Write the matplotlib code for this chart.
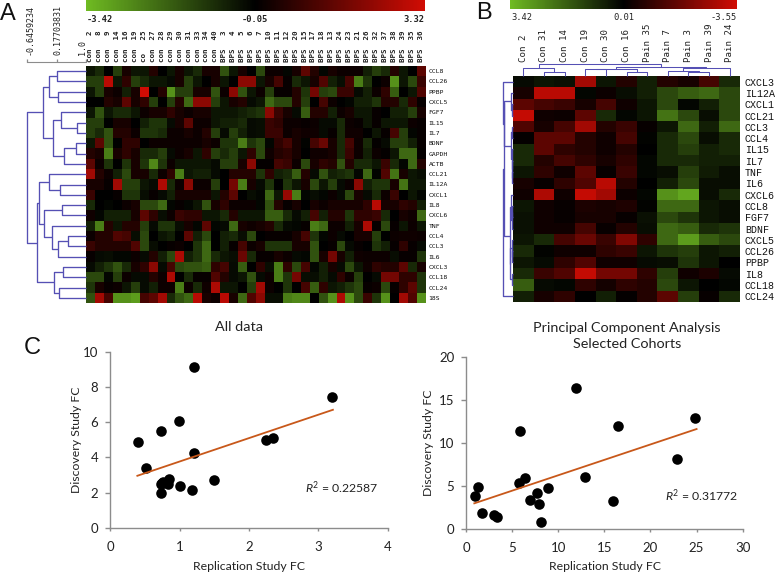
import matplotlib
matplotlib.use("Agg")
import matplotlib.pyplot as plt
from matplotlib.cm import ScalarMappable
from matplotlib.colors import LinearSegmentedColormap, Normalize
from matplotlib.transforms import ScaledTranslation

W, H = 776, 573

# heat levels: negative = green, positive = red, +-9 = end of the colour bar
a_genes = ["CCL8", "CCL26", "PPBP", "CXCL5", "FGF7", "IL15", "IL7", "BDNF", "GAPDH", "ACTB", "CCL21", "IL12A",
           "CXCL1", "IL8", "CXCL6", "TNF", "CCL4", "CCL3", "IL6", "CXCL3", "CCL18", "CCL24", "18S"]
a_samples = ["con 2", "con 8", "con 9", "con 14", "con 16", "con 19", "co 25", "con 27", "con 28", "con 29",
             "con 30", "con 31", "con 33", "con 34", "con 40", "BPS 3", "BPS 4", "BPS 5", "BPS 6", "BPS 7",
             "BPS 10", "BPS 11", "BPS 12", "BPS 20", "BPS 15", "BPS 17", "BPS 18", "BPS 13", "BPS 24", "BPS 23",
             "BPS 21", "BPS 26", "BPS 32", "BPS 37", "BPS 38", "BPS 39", "BPS 35", "BPS 36"]
a_heat = [
    [-1, -2, 0, -3, 1, -1, -1, 1.5, 0, -1, 1, -1, -2, 1, 1, -4, -1, 1, 0, -3.5, .5, .5, -.3, 1, 4, 1.5, -.3, 1, .5, .5, .5, -1.5, -3, -2, 1.5, -1, 0, 4, ],
    [-3, -3, 8, -1, 2, -3, -2, -1, -1, -.5, 1, -3, -1, 0, 1, -1, 0, 6, 6, -1, 1, 3, .3, -2, -1, 1, 3.5, -1.5, -.7, 3, -6, -2.5, 0, .5, -7, -1, -3.5, 2.5],
    [-1, -3, 1, .5, -1.5, 1, 9, 0, 1.5, -7, -3, -3, 1, 1, -4, .5, 6, -4, -1, .5, -3, .3, .3, 1.5, -2.5, 5, -3, -3.5, 2.5, 2.5, -.5, -1.5, .5, 2, -4.5, 0, -1, 3.5],
    [0, 0, 1.5, 1, 4, 1, 2, -3, 0, -3, 1.5, -5, 6, 6, -3, -1, 1, 1.5, -.5, -1, -5, -3.5, -3.5, 1.5, -3, 0, 3, .5, 0, -.3, -1.5, -1.5, -2.5, 1.5, 1.5, -2, 2, .3],
    [-1, -4, -1, -2, -2, -1, .5, 1, 1, 2, 1, .5, 1, 1, -1, -1, -1, -1.5, -2, -2.5, 6, 2.5, 1, -.5, -4.5, 1.5, 1.5, -1.5, .5, 1, -1, -1, .3, 0, -1.5, -1.5, -3, 1],
    [-3, -3, 0, 1, 1, 0, -1.5, -2.5, -2.5, -.5, 1, 4, .5, .5, -1, -1.5, -1.5, -2, -.5, -.7, 2.5, 2, .5, .5, .3, .5, -.5, -.5, -2, .5, .3, -1, .3, -1, -1, -1, .5, .3],
    [-3, -2, -4, 1.5, 1.5, .5, -2.5, -2.5, -2, .5, .5, 1, .5, 1.5, -3, -.5, -3, -1.5, -.5, -.7, 2.5, 2.5, .5, 1, .7, .7, -.5, .3, -2, .7, .7, 0, -1, .3, 3, -3, -.3, .3],
    [-1, 4, -4, 0, 2, 2, 0, .5, .5, .5, .5, .5, .5, 1, .5, -2.5, -2.5, -6, -2.5, -3.5, -.3, 2, 3, 1, -.2, 3, 4.5, 1, -2, 3, .5, -2, .2, -.5, -3, -3, -1.5, .3],
    [1.5, 1, -6, 1, 2, 1, -2, -2, -3, -.5, .5, 1, -1, 2, -3, -2, -3, -1, 2, -3.5, .7, 1.5, 2, 1, 0, .7, .7, 1, -2, 2.5, .5, -1.5, .5, .2, -1, -5, -5, .2],
    [4, .5, -2.5, 0, -2.5, 1, -2.5, -6.5, -2.5, .5, -1, -1, -1, -1, -.5, -3, -3, 1, 6, .2, .2, 3, 2.5, .5, -3.5, 1, 2, 1.5, -4, 1.5, -2, -2, -1, 2.5, -2, -.3, -5, 1.5],
    [7, 1.5, .5, -1.5, -3.5, 1, 1, -2, .5, 2, -6, -1, -1.5, -1.5, -.5, 0, 1.5, 1.5, 1.5, -2.5, 2, -1.5, -2, -4.5, 1.5, -.5, -4, -1.5, -2, -2.5, -.3, -5, -.2, 3.5, -5.5, 1, -1, -.7],
    [1, 1, .3, 7, -3, -3, -1, -.5, 7.5, -2, .5, 6, .5, .5, -3, 0, 5, -6, 1, -.5, -2.5, 0, -2.5, -1, 1, -3.5, -1, -3, -.5, .5, 6, -1.5, -2.5, -2.5, 1, -5.5, -1, -1],
    [2.5, 0, 0, .3, -2.5, -2.5, -.7, .3, -.5, -1.5, 1, 1, 1, 1, -1, 1.5, 4, 0, -.7, -.3, -5, -1, 6.5, -6, -.3, -.7, -.3, .5, -.5, -3.5, 1, -.5, -2, .5, 2.5, 0, -1, -.3],
    [-2, 0, -.3, 0, .5, 1, -3.5, -3.5, -5, -.3, .3, -.3, -1, -4, 1, 2, .5, .5, .5, -.3, -4, 1.5, .3, 1, 0, 1, .5, 1, 1, 1, 1, 2, 8, 1, 1, 2, 1.5, -1.5],
    [.7, -.3, -1.5, -1.5, -1.5, 1, 4, 2, -.7, .5, 2.5, 2, 2, -1, -1, -2, 1.5, -1, -1, -1, -4.5, -4.5, -2, -.5, -1.5, 3, -1.5, 1.5, 1.5, -2.5, 2, 2, 2.5, -2, 0, 1, .7, -5],
    [-1.5, -6, 1.5, -1, 1.5, 1.5, -3, -.5, -2.5, -2.5, -.7, 1, -.3, 4, -.3, -.5, -5, 1, .7, 1, 1.5, -2, -.5, -.3, .3, -6, -5, .5, .5, -1.5, 1, 7.5, .3, -3.5, .3, -1, .5, -1],
    [.5, 1.5, 1.5, 3.5, 3, -.7, -3.5, 0, -1, -1.5, 0, 4, -1.5, -3.5, 0, -1.5, -2, -.7, -3.5, 0, .3, .3, .3, 1, 3, -2.5, -.3, .5, -.5, 0, 1, 1, -3, 0, .5, .7, .7, .5],
    [2.5, 1.5, 1.5, 1.5, 1.5, 3.5, -3.5, -.7, 0, .3, .5, 0, -2.5, -5, 0, -1.5, .3, 3, .5, 1, -2.5, -2.5, -2.5, 1, 1, -4, 0, .3, -3.5, -.5, .3, 0, -2.5, -1.5, .3, 2, .3, -.5],
    [.3, -.5, -.7, -.3, -.3, .5, -.5, 1.5, -1.5, -3.5, 7.5, -1.5, -2.5, -5, -2, -1, -.7, 4.5, -2, .3, .3, 1, .5, -.5, -.3, -4, 1, 5, 1, -1.5, .7, .5, .5, .5, -.7, .3, .3, -2.5],
    [-.5, -1.5, -2.5, -4, -2, 1, 2, 6, -.5, 3, -3.5, -4, -4, -4.5, 2, 3, -.5, -4.5, 0, 2, -.7, -6, 2, -3.5, 3, -.3, -1.5, 1, -.5, -3.5, -1, .7, 2, 1.5, 1.5, 4, -2, 1],
    [-3.5, -3.5, -.3, -3, .5, -.5, -.5, 1.5, .5, 7.5, 0, -2, .3, .3, 3.5, 1.5, -.5, -1, -4, -.5, .5, -6, -2.5, 5, -.7, -.7, -1.5, -.5, 2, .5, -3, 0, -.5, 5, 5, 2, 2, -2.5],
    [-2.5, 1, .3, .5, -1, -3, -.5, -1.5, .5, .5, -6, .5, -2, .7, 7.5, -1, -1, 0, -3, 7, .5, 0, -2.5, 0, 3, -4.5, 2, -1, -1.5, -2.5, -3.5, .3, .5, -3.5, .3, 2, 4, -2.5],
    [-4, 7, 3, -7, -7, -7.5, 3, 4, 7, -2, -4, -5, 8, 1, .5, 8, 1, -5, 3.5, 6, -.7, -.7, -6, -6.5, -6.5, 0, -4, -7, 7.5, -7, -3.5, 2.5, -2.5, -7, 0, 7, 3.5, -7],
]

b_genes = ["CXCL3", "IL12A", "CXCL1", "CCL21", "CCL3", "CCL4", "IL15", "IL7", "TNF", "IL6", "CXCL6", "CCL8",
           "FGF7", "BDNF", "CXCL5", "CCL26", "PPBP", "IL8", "CCL18", "CCL24"]
b_samples = ["Con 2", "Con 31", "Con 14", "Con 19", "Con 30", "Con 16", "Pain 35", "Pain 7", "Pain 3", "Pain 39", "Pain 24"]
b_heat = [
    [-.5, -1, -.8, 7, -1, 1.5, -1.5, 1.5, 1, 3, -2],
    [1, 8, 8, -.3, .5, -.7, -1.5, -3.5, -4.5, -5, -3.5],
    [4, 3, 2.5, 1, 3, .7, -1, -3.5, -.3, -1.5, -3.5],
    [8.5, .7, .5, 4, -2, -.3, -1, -5.5, -3.5, -.7, -3.5],
    [3.5, 1, 3, 7, 1.5, 2.5, .3, -1, -5, -1.5, -5],
    [.2, 4, 4, 1.5, .7, 3, -.2, -2, -3.5, -.7, -2],
    [-2, 4, 2, 1.5, .7, 1.5, 0, -2, -3, -1.5, -2],
    [-2, 1.5, 3, 2, 1, 2, -.3, -2, -2, -1.5, -1.5],
    [-1, 2, .7, 4, .3, 2.5, -.3, -.7, -3, -1.3, -.7],
    [1, .3, 2, 3.5, 8, 1.5, 0, -1.5, -3.5, -.7, -.7],
    [.7, 7.5, .7, 8.5, 7, .5, -.3, -7, -8, -.7, -2],
    [-1, .7, .3, 1.2, 1, 1.3, -.2, -5, -5, -1, -.7],
    [-.8, .7, .3, 1, 1, .3, -.8, -3.5, -2.5, -1, -.7],
    [-.8, .7, .7, 3, .4, 1.5, -.7, -5, -4.5, -2, -2.5],
    [-1, -2, 3, 4.5, 2.5, 5.5, 2, -5, -7.5, -4.5, -3.5],
    [-2, -.2, .7, .7, 2, 2.5, -1, -2.5, -3, -1, -1.5],
    [-1, -.5, 2, 3.5, .7, .7, -.5, -.7, -2.5, -1, 0],
    [-2, 2.5, 3.5, 8.5, 5, 5, 2, -3, .7, 1.2, -.5],
    [-4.5, -.5, -.3, 2, .9, 2, 1.5, -3.5, -1, 0, -.3],
    [-1.5, 1, 2, 0, -1.5, .2, 1.5, 4, -3, .3, -2],
]

# dendrograms as (merge height, left, right), leaves are row / column numbers
a_top = (-.196, (-.027, (.198, 0, 1), (.226, 2, 3)),
         (.085, (.31, 4, (.761, 5, 6)), (.395, (.733, 7, 8), 9)))
a_mid = (-.308, (-.027, 10, (.282, 11, 12)),
         (-.168, (.339, 13, 14), (.057, 15, (.226, (.508, 16, 17), 18))))
a_bot = (.114, (.367, 19, 20), (.254, 21, 22))
a_tree = (-.6459234, a_top, (-.365, a_mid, a_bot))

b_top = (10, 0, (9.5, (2, 1, (1, 2, 3)), (2.5, (1, 4, 5), (1.5, 6, (1, 7, (.7, 8, 9))))))
b_low = (3.5, (2.2, 10, (1.5, (1, 11, 12), 13)), (3, (1.5, 14, (.8, 15, 16)), (1.5, 17, 18)))
b_row_tree = (10, (9, b_top, b_low), 19)
b_col_tree = (11.7, (7.7, 0, (4.3, 1, 2)),
              (8.3, (7, (6.5, 3, 4), (3.7, 5, 6)), (7.7, (5.3, 7, (4.3, 8, 9)), 10)))

left_x = [.40, .51, .73, .99, 1.20, 1.20, 1.50, 1.01, 1.18, .73, .84, .83, .76, .73, .74, 2.25, 2.35, 3.19]
left_y = [4.85, 3.37, 5.51, 6.04, 9.13, 4.26, 2.69, 2.39, 2.14, 2.0, 2.76, 2.46, 2.61, 2.48, 2.56, 4.98, 5.08, 7.41]
left_fit_x = [.39, 3.21]
left_fit_y = [2.95, 6.70]

right_x = [1.01, 1.30, 1.73, 3.0, 3.32, 5.75, 5.85, 6.43, 6.97, 7.73, 7.88, 8.13, 8.89, 11.89, 12.9, 15.9, 16.44, 22.88, 24.86]
right_y = [3.8, 4.88, 1.82, 1.59, 1.32, 5.35, 11.32, 5.93, 3.33, 4.15, 2.87, .78, 4.73, 16.4, 5.97, 3.22, 11.94, 8.1, 12.87]
right_fit_x = [.90, 25.0]
right_fit_y = [2.95, 11.59]

MONO = "DejaVu Sans Mono"
SANS = "Lato"
TREE_COLOR = "#5550b4"
AXIS_COLOR = "#8c8c8c"
TEXT_COLOR = "#222222"

plt.rcParams["mathtext.fontset"] = "custom"
plt.rcParams["mathtext.rm"] = SANS
plt.rcParams["mathtext.it"] = SANS + ":italic"

cmap = LinearSegmentedColormap.from_list("gr", ["#6fbb22", "#000000", "#d00c04"])
norm = Normalize(-9, 9)


def px_axes(fig, x0, y0, x1, y1, **kw):
    # pixel box from the top-left corner of the picture
    return fig.add_axes([x0 / W, 1 - y1 / H, (x1 - x0) / W, (y1 - y0) / H], **kw)


def draw_tree(ax, node, base, sideways=True):
    # returns (leaf position, height) of the node
    if not isinstance(node, tuple):
        return node, base
    h, a, b = node
    pa, ha = draw_tree(ax, a, base, sideways)
    pb, hb = draw_tree(ax, b, base, sideways)
    hs = [ha, h, h, hb]
    ps = [pa, pa, pb, pb]
    if sideways:
        ax.plot(hs, ps, color=TREE_COLOR, lw=0.95, solid_capstyle="butt", clip_on=False)
    else:
        ax.plot(ps, hs, color=TREE_COLOR, lw=0.75, solid_capstyle="butt", clip_on=False)
    return (pa + pb) / 2, h


def draw_bar(fig, box, labels, size, weight="normal"):
    cax = px_axes(fig, *box)
    fig.colorbar(ScalarMappable(norm=norm, cmap=cmap), cax=cax, orientation="horizontal", ticks=[])
    cax.spines[:].set_visible(False)
    for pos, ha, lab in zip([0.004, 0.5, 1.0], ["left", "center", "right"], labels):
        cax.text(pos, -0.4, lab, transform=cax.transAxes, ha=ha, va="top", family=MONO,
                 fontsize=size, color=TEXT_COLOR, fontweight=weight)


def draw_scatter(fig, box, xs, ys, fit_x, fit_y, xlim, ylim, xticks, yticks, r2, r2_pos):
    ax = px_axes(fig, *box)
    ax.scatter(xs, ys, s=58, c="black", linewidths=0, zorder=2, clip_on=False)
    ax.plot(fit_x, fit_y, color="#c8581a", lw=1.3, zorder=3)
    ax.set_xlim(*xlim)
    ax.set_ylim(*ylim)
    ax.set_xticks(xticks)
    ax.set_yticks(yticks)
    ax.spines[["top", "right"]].set_visible(False)
    ax.spines[["left", "bottom"]].set_color(AXIS_COLOR)
    ax.spines[["left", "bottom"]].set_linewidth(1.0)
    ax.tick_params(axis="x", length=2.5, width=1.0, color=AXIS_COLOR, pad=7, labelsize=9.5, labelcolor=TEXT_COLOR)
    ax.tick_params(axis="y", length=3.5, width=1.0, color=AXIS_COLOR, pad=5, labelsize=9.5, labelcolor=TEXT_COLOR)
    for lab in ax.get_xticklabels() + ax.get_yticklabels():
        lab.set_family(SANS)
    fig.text(r2_pos[0] / W, 1 - r2_pos[1] / H, "$\\mathit{R}^2$ = " + r2, family=SANS, fontsize=8.8,
             color=TEXT_COLOR, ha="left", va="center")


def main():
    fig = plt.figure(figsize=(W / 100, H / 100), dpi=100, facecolor="white")

    # panel A
    draw_bar(fig, (85.5, 0, 424.5, 11), ["-3.42", "-0.05", "3.32"], 6.3, weight="bold")
    ax = px_axes(fig, 86, 66, 425, 303)
    ax.imshow(a_heat, cmap=cmap, norm=norm, aspect="auto", interpolation="nearest")
    ax.set_xticks(range(len(a_samples)))
    ax.set_xticklabels([f"{s.split()[0]:<3}{s.split()[1]:>4}" for s in a_samples], rotation=90,
                       family=MONO, fontsize=5.4, fontweight="bold", color=TEXT_COLOR)
    ax.xaxis.tick_top()
    ax.yaxis.tick_right()
    ax.set_yticks(range(len(a_genes)))
    ax.set_yticklabels(a_genes, family=MONO, fontsize=4.6, color="#111111")
    ax.tick_params(length=0, pad=2.5)
    ax.tick_params(axis="x", pad=3)
    for s in ax.spines.values():
        s.set_visible(False)

    tree_ax = px_axes(fig, 27, 66, 86, 303)
    for name, s in tree_ax.spines.items():
        s.set_visible(name == "top")
    tree_ax.spines["top"].set_position(("outward", 3))
    tree_ax.spines["top"].set_color(AXIS_COLOR)
    draw_tree(tree_ax, a_tree, 1.0)
    tree_ax.set_xlim(-0.6459234, 1.0)
    tree_ax.set_ylim(len(a_genes) - 0.5, -0.5)
    tree_ax.set_yticks([])
    tree_ax.set_xticks([-0.6459234, 0.17703831, 1.0])
    tree_ax.set_xticklabels(["-0.6459234", "0.17703831", "1.0"], rotation=90, family=MONO, fontsize=6, color=TEXT_COLOR)
    tree_ax.xaxis.tick_top()
    tree_ax.tick_params(length=2.5, width=0.9, color=AXIS_COLOR, pad=2.5, direction="out")
    tree_ax.patch.set_alpha(0)
    # the scale labels sit a little off their ticks
    for lab, dx in zip(tree_ax.get_xticklabels(), [3, 1, -3.5]):
        lab.set_transform(lab.get_transform() + ScaledTranslation(dx / 100, 0, fig.dpi_scale_trans))

    # panel B
    draw_bar(fig, (510, 0, 737, 9), ["3.42", "0.01", "-3.55"], 6.3)
    ax = px_axes(fig, 513, 76, 740, 302)
    ax.imshow(b_heat, cmap=cmap, norm=norm, aspect="auto", interpolation="nearest")
    ax.set_xticks(range(len(b_samples)))
    ax.set_xticklabels(b_samples, rotation=90, family=MONO, fontsize=6.6, color=TEXT_COLOR)
    ax.xaxis.tick_top()
    ax.yaxis.tick_right()
    ax.set_yticks(range(len(b_genes)))
    ax.set_yticklabels(b_genes, family="Liberation Mono", fontsize=7.2, color="#111111")
    ax.tick_params(length=0, pad=3.5)
    ax.tick_params(axis="x", pad=10)
    for s in ax.spines.values():
        s.set_visible(False)

    tree_ax = px_axes(fig, 503, 76, 513, 302)
    draw_tree(tree_ax, b_row_tree, 0)
    tree_ax.set_xlim(10, 0)
    tree_ax.set_ylim(len(b_genes) - 0.5, -0.5)
    tree_ax.axis("off")

    tree_ax = px_axes(fig, 513, 64, 740, 76)
    draw_tree(tree_ax, b_col_tree, 0, sideways=False)
    tree_ax.set_xlim(-0.5, len(b_samples) - 0.5)
    tree_ax.set_ylim(0, 11.7)
    tree_ax.axis("off")

    # panel C
    draw_scatter(fig, (110.3, 351.7, 387.7, 527.7), left_x, left_y, left_fit_x, left_fit_y, (0, 4), (0, 10),
                 [0, 1, 2, 3, 4], [0, 2, 4, 6, 8, 10], "0.22587", (305, 488))
    draw_scatter(fig, (466, 356.7, 742.7, 528.7), right_x, right_y, right_fit_x, right_fit_y, (0, 30), (0, 20),
                 [0, 5, 10, 15, 20, 25, 30], [0, 5, 10, 15, 20], "0.31772", (665, 496))

    common = dict(family=SANS, color=TEXT_COLOR, ha="center", va="center")
    fig.text(239 / W, 1 - 327 / H, "All data", fontsize=10.4, **common)
    fig.text(627 / W, 1 - 328 / H, "Principal Component Analysis", fontsize=10.4, **common)
    fig.text(627 / W, 1 - 344 / H, "Selected Cohorts", fontsize=10.4, **common)
    fig.text(249 / W, 1 - 566 / H, "Replication Study FC", fontsize=8.8, **common)
    fig.text(605 / W, 1 - 566 / H, "Replication Study FC", fontsize=8.8, **common)
    fig.text(76 / W, 1 - 440 / H, "Discovery Study FC", fontsize=8.8, rotation=90, **common)
    fig.text(429 / W, 1 - 443 / H, "Discovery Study FC", fontsize=8.8, rotation=90, **common)

    letters = dict(family="Liberation Sans", color="#111111", fontsize=17, ha="left", va="center")
    fig.text(0 / W, 1 - 14 / H, "A", **letters)
    fig.text(476 / W, 1 - 13 / H, "B", **letters)
    fig.text(24 / W, 1 - 348.5 / H, "C", **letters)

    fig.savefig("out.png", dpi=100)


if __name__ == "__main__":
    main()
